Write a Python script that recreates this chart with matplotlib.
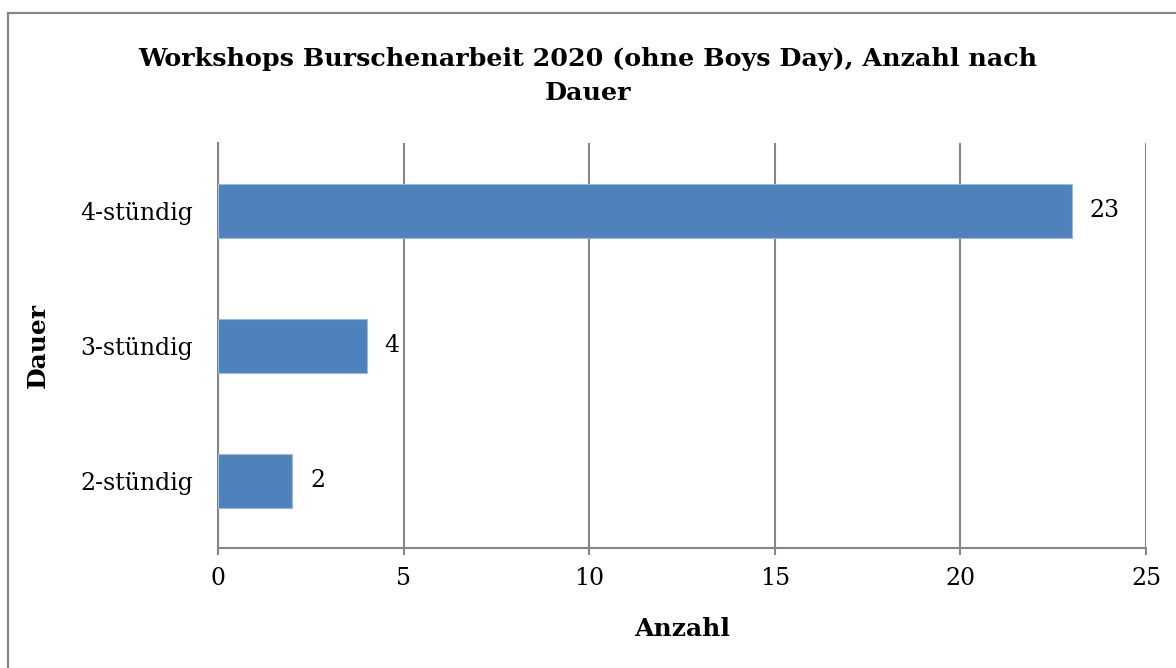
import matplotlib.pyplot as plt
from matplotlib.patches import Rectangle

# data
categories = ["2-stündig", "3-stündig", "4-stündig"]
counts = [2, 4, 23]
x_ticks = [0, 5, 10, 15, 20, 25]

title = "Workshops Burschenarbeit 2020 (ohne Boys Day), Anzahl nach\nDauer"

plt.rcParams['font.family'] = ['DejaVu Serif']

fig = plt.figure(figsize=(11.76, 6.68), dpi=100)
ax = fig.add_axes([0.1854, 0.1796, 0.7891, 0.6063])

grey = "#868686"

# outer chart border (only left and top edges visible in the crop)
fig.patches.append(Rectangle((8 / 1176, -0.1), 1.2, 1 - 13 / 668 + 0.1,
                             transform=fig.transFigure, fill=False,
                             edgecolor=grey, linewidth=1.6, zorder=0))

bars = ax.barh(range(len(categories)), counts, height=0.4,
               color="#4F81BD", edgecolor="#9DB9DC", linewidth=0.8, zorder=3)

for bar, value in zip(bars, counts):
    ax.annotate(str(value), (bar.get_width(), bar.get_y() + bar.get_height() / 2),
                xytext=(13, 0), textcoords="offset points",
                ha="left", va="center", fontsize=17)

ax.set_xlim(0, 25)
ax.set_ylim(-0.5, 2.5)
ax.set_xticks(x_ticks)
ax.set_yticks(range(len(categories)))
ax.set_yticklabels(categories)

ax.grid(axis="x", color=grey, linewidth=1.5, zorder=0)
for side in ["top", "right"]:
    ax.spines[side].set_visible(False)
for side in ["left", "bottom"]:
    ax.spines[side].set_color(grey)
    ax.spines[side].set_linewidth(1.5)

ax.tick_params(axis="x", length=5, width=1.5, color=grey, labelsize=17, pad=9)
ax.tick_params(axis="y", length=0, labelsize=17, pad=18)

ax.set_xlabel("Anzahl", fontsize=18, fontweight="bold", labelpad=19)
ax.set_ylabel("Dauer", fontsize=18, fontweight="bold", labelpad=22)

fig.suptitle(title, fontsize=18.3, fontweight="bold", y=0.93, linespacing=1.55)

fig.savefig("out.png", dpi=100)
